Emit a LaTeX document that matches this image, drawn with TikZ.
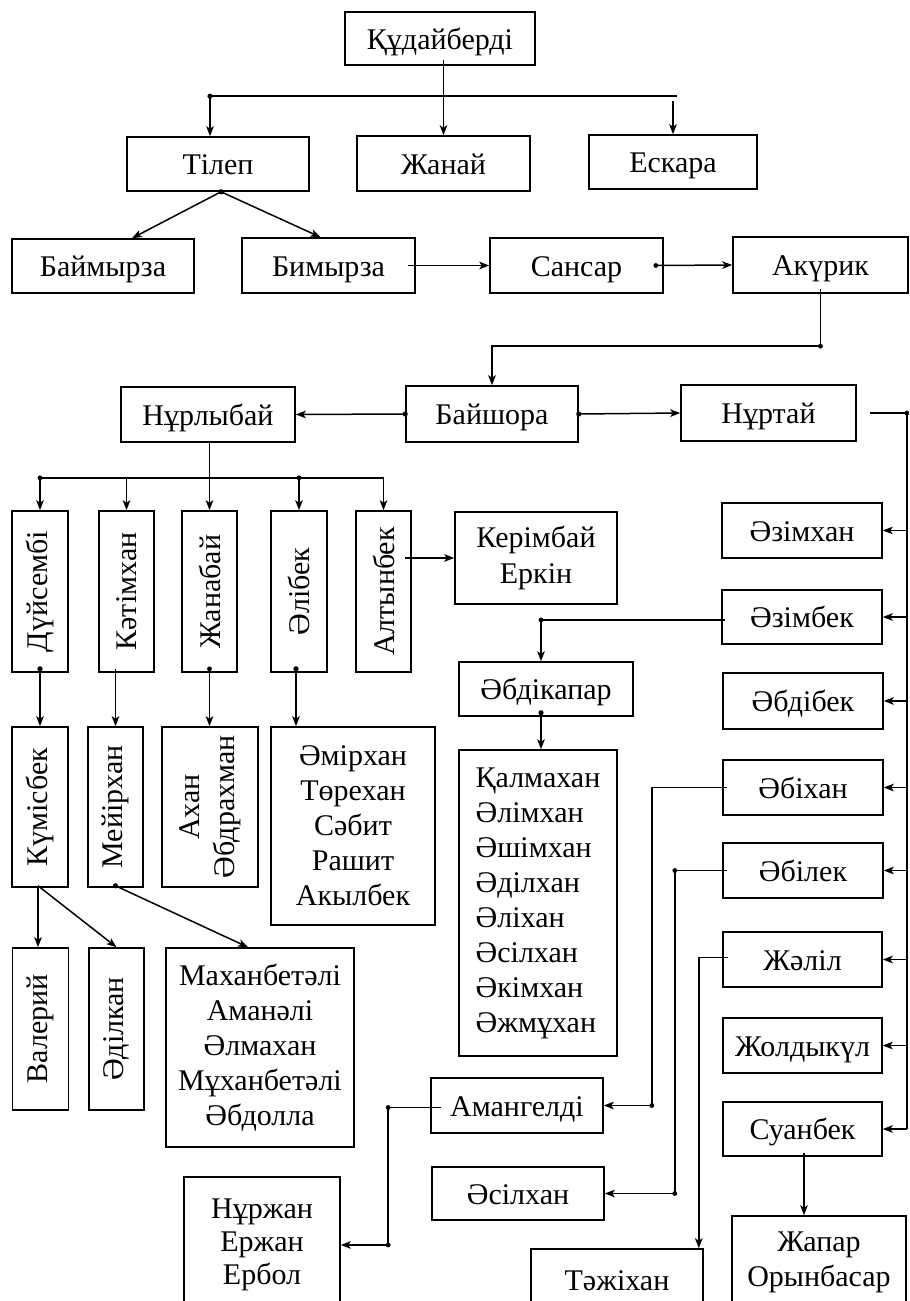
\documentclass[tikz,border=0pt]{standalone}
\usepackage{fontspec}
\setmainfont{Liberation Serif}
\usetikzlibrary{arrows.meta,calc}
\begin{document}
\begin{tikzpicture}[x=0.5pt,y=-0.5pt,
  font=\fontsize{15}{17.5}\selectfont,
  box/.style n args={2}{draw, line width=0.8pt, inner sep=0pt,
    minimum width=#1*0.5pt, minimum height=#2*0.5pt, align=center},
  one/.style={text height=11pt, text depth=0.5pt},
  conn/.style={line width=0.75pt},
  arr/.style={conn, -{Stealth[length=5pt,width=3.8pt,inset=1.3pt]}},
  jdot/.style={fill=black}]
\useasboundingbox (0,0) rectangle (910,1301);
\clip (0,0) rectangle (910,1301);
\fill[white] (0,0) rectangle (910,1301);

% ---------- nodes ----------
\node[box={190}{53}, one] (kud) at (440,38.5) {Құдайберді};
\node[box={182}{54}, one] (tilep) at (218,164) {Тілеп};
\node[box={173}{55}, one] (zhanai) at (443.5,163.5) {Жанай};
\node[box={168}{54}, one] (eskara) at (673,162) {Ескара};
\node[box={182}{54}, one] (baim) at (103,266) {Баймырза};
\node[box={173}{55}, one] (bim) at (328.5,265.5) {Бимырза};
\node[box={173}{55}, one] (sans) at (576.5,265.5) {Сансар};
\node[box={175}{56}, one] (akur) at (820.5,265) {Акүрик};

\node[box={174}{55}, one] (nurly) at (208,414.5) {Нұрлыбай};
\node[box={172}{56}, one] (baish) at (492,414) {Байшора};
\node[box={175}{56}, one] (nurtai) at (768.5,413) {Нұртай};

\node[box={56}{161}] (duis) at (40,591.5) {\rotatebox{90}{Дүйсембі}};
\node[box={55}{161}] (katim) at (126.5,591.5) {\rotatebox{90}{Кәтімхан}};
\node[box={55}{161}] (zhanab) at (209.5,591.5) {\rotatebox{90}{Жанабай}};
\node[box={56}{161}] (alib) at (299,591.5) {\rotatebox{90}{Әлібек}};
\node[box={55}{161}] (altyn) at (383.5,591.5) {\rotatebox{90}{Алтынбек}};
\node[box={162}{92}, font=\fontsize{15}{18}\selectfont] (kerim) at (536,558) {Керімбай\\Еркін};

\node[box={160}{55}, one] (azkh) at (802,530.5) {Әзімхан};
\node[box={160}{54}, one] (azbek) at (802,617) {Әзімбек};
\node[box={174}{54}, one] (abdik) at (546,689) {Әбдікапар};
\node[box={160}{56}, one] (abdib) at (803,701) {Әбдібек};
\node[box={160}{55}, one] (abikh) at (803,787.5) {Әбіхан};
\node[box={160}{55}, one] (abil) at (803,870.5) {Әбілек};
\node[box={159}{55}, one] (zhalil) at (802.5,959.5) {Жәліл};
\node[box={159}{55}, one] (zholdy) at (802.5,1045.5) {Жолдыкүл};
\node[box={159}{54}, one] (suan) at (802.5,1129) {Суанбек};

\node[box={56}{160}] (kumis) at (40,807) {\rotatebox{90}{Күмісбек}};
\node[box={55}{160}] (meir) at (115.5,807) {\rotatebox{90}{Мейірхан}};
\node[box={96}{160}] (akhan) at (210,807)
  {\rotatebox{90}{\begin{tabular}{@{}c@{}}Ахан\\Әбдрахман\end{tabular}}};
\node[box={164}{198}] (amir) at (353,826) {Әмірхан\\Төрехан\\Сәбит\\Рашит\\Акылбек};
\node[box={158}{306}, align=left] (kalm) at (538,903)
  {Қалмахан\\Әлімхан\\Әшімхан\\Әділхан\\Әліхан\\Әсілхан\\Әкімхан\\Әжмұхан};

\node[box={56}{162}] (valer) at (40.5,1029) {\rotatebox{90}{Валерий}};
\node[box={55}{162}] (adilk) at (116.5,1029) {\rotatebox{90}{Әділкан}};
\node[box={188}{199}] (makh) at (260,1047.5)
  {Маханбетәлі\\Аманәлі\\Әлмахан\\Мұханбетәлі\\Әбдолла};

\node[box={172}{55}, one] (amang) at (517,1105.5) {Амангелді};
\node[box={172}{53}, one] (asilk) at (518,1193.5) {Әсілхан};
\node[box={156}{136}, font=\fontsize{15}{16.5}\selectfont] (nurzh) at (262,1245) {Нұржан\\Ержан\\Ербол};
\node[box={172}{62}, one] (tazh) at (617,1280) {Тәжіхан};
\node[box={174}{92}] (zhapar) at (819,1262) {Жапар\\Орынбасар};

% ---------- connectors ----------
% Құдайберді
\draw[arr] ($(kud.south -| zhanai.north)+(0,-6)$) -- (zhanai.north);
\coordinate (h1) at ($(tilep.north)+(-8,-40)$);
\coordinate (h2) at ($(eskara.north |- h1)+(4,0)$);
\draw[conn] (h1) -- (h2);
\draw[arr] (h1) -- (h1 |- tilep.north);
\draw[arr] ($(eskara.north |- h1)+(0,5)$) -- (eskara.north);
\fill[jdot] (h1) circle (1.3pt);

% Тілеп
\coordinate (t1) at ($(tilep.south)+(3,0)$);
\draw[arr] (t1) -- ($(baim.north)+(29,0)$);
\draw[arr] (t1) -- ($(bim.north)+(-8,0)$);
\fill[jdot] (t1) circle (1.3pt);

\draw[arr] ($(bim.east)+(-8,0)$) -- (sans.west);
\draw[arr] ($(sans.east)+(-8,0)$) -- (akur.west);
\fill[jdot] ($(sans.east)+(-8,0)$) circle (1.2pt);

% Акүрик -> Байшора
\coordinate (a1) at ($(baish.north)+(0,-39)$);
\draw[arr] ($(akur.south)+(0,-5)$) |- (a1) -- (baish.north);
\fill[jdot] (akur.south |- a1) circle (1.2pt);

% Байшора
\draw[arr] (baish.west) -- (nurly.east);
\draw[arr] (baish.east) -- (nurtai.west);
\fill[jdot] (baish.west) circle (1.3pt);
\fill[jdot] (baish.east) circle (1.3pt);

% right spine from Нұртай
\coordinate (r0) at ($(nurtai.east)+(50,0)$);
\draw[conn] ($(nurtai.east)+(13,0)$) -- (r0) -- (r0 |- suan.east);
\foreach \b in {azkh,azbek,abdib,abikh,abil,zhalil,zholdy,suan}
  \draw[arr] (r0 |- \b.east) -- (\b.east);
\fill[jdot] (r0) circle (1.2pt);

% Нұрлыбай children
\coordinate (n1) at ($(nurly.south)+(0,35)$);
\draw[conn] (duis.north |- n1) -- (altyn.north |- n1);
\draw[conn] (nurly.south -| zhanab.north) -- (n1 -| zhanab.north);
\foreach \b in {duis,katim,zhanab,alib,altyn}
  \draw[arr] (\b.north |- n1) -- (\b.north);
\fill[jdot] (duis.north |- n1) circle (1.2pt);
\fill[jdot] (alib.north |- n1) circle (1.2pt);

% Алтынбек -> Керімбай
\draw[arr] ($(altyn.east |- kerim.west)+(-7,0)$) -- (kerim.west);

% second generation
\draw[arr] ($(duis.south)+(0,-4)$) -- (kumis.north);
\fill[jdot] ($(duis.south)+(0,-4)$) circle (1.3pt);
\draw[arr] ($(meir.north |- katim.south)+(0,-4)$) -- (meir.north);
\draw[arr] ($(zhanab.south)+(0,-4)$) -- (zhanab.south |- akhan.north);
\fill[jdot] ($(zhanab.south)+(0,-4)$) circle (1.2pt);
\draw[arr] ($(alib.south)+(-3,-4)$) -- ($(alib.south |- amir.north)+(-3,0)$);
\fill[jdot] ($(alib.south)+(-3,-4)$) circle (1.3pt);

% Күмісбек, Мейірхан children
\coordinate (k1) at ($(kumis.south)+(-2,-2)$);
\draw[arr] (k1) -- (k1 |- valer.north);
\draw[arr] (k1) -- (adilk.north);
\coordinate (m1) at ($(meir.south)+(0,-2)$);
\draw[arr] (m1) -- ($(makh.north)+(-12,0)$);
\fill[jdot] (m1) circle (1.3pt);

% Әзімбек -> Әбдікапар -> list
\coordinate (z1) at ($(azbek.west)+(4,3)$);
\coordinate (z2) at ($(abdik.north)+(-5,0)$);
\draw[arr] (z1) -| (z2);
\fill[jdot] (z1 -| z2) circle (1.2pt);
\draw[arr] ($(abdik.south)+(-5,-4)$) -- ($(abdik.south |- kalm.north)+(-5,0)$);
\fill[jdot] ($(abdik.south)+(-5,-4)$) circle (1.3pt);

% Әбіхан, Әбілек, Жәліл
\coordinate (b1) at ($(amang.east)+(48,0)$);
\coordinate (b1s) at ($(abikh.west)+(5,0)$);
\draw[arr] (b1s) -| (b1) -- (amang.east);
\fill[jdot] (b1) circle (1.2pt);
\coordinate (b2) at ($(asilk.east)+(70,0)$);
\coordinate (b2s) at ($(abil.west)+(5,0)$);
\draw[arr] (b2s) -| (b2) -- (asilk.east);
\fill[jdot] (b2) circle (1.2pt);
\fill[jdot] (b2s -| b2) circle (1.2pt);
\coordinate (b3s) at ($(zhalil.west)+(6,-2)$);
\coordinate (b3) at ($(tazh.north east)+(-5,0)$);
\draw[arr] (b3s) -| (b3);

% Амангелді -> Нұржан
\coordinate (g1) at ($(amang.west)+(-42,2)$);
\draw[arr] ($(amang.west)+(11,2)$) -- (g1) |- (nurzh.east);
\fill[jdot] (g1) circle (1.2pt);
\fill[jdot] (g1 |- nurzh.east) circle (1.2pt);

% Суанбек -> Жапар
\draw[arr] ($(suan.south)+(1.5,-4)$) -- ($(suan.south |- zhapar.north)+(1.5,0)$);
\end{tikzpicture}
\end{document}
